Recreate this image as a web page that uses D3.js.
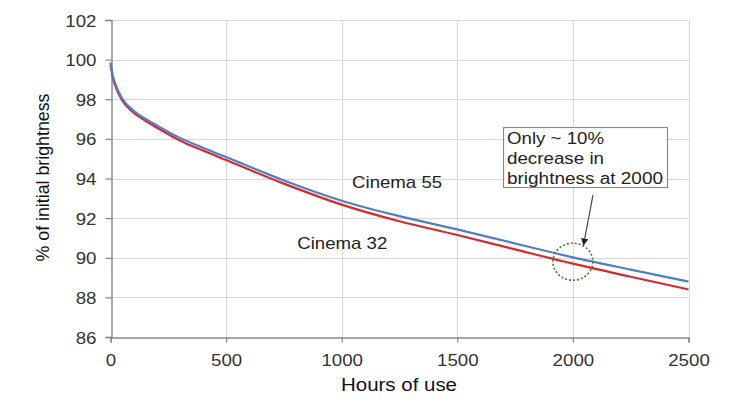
<!DOCTYPE html>
<html><head><meta charset="utf-8">
<script src="https://cdn.jsdelivr.net/npm/d3@7"></script>
<style>body{margin:0;background:#fff}svg{display:block;font-family:"Liberation Sans",Arial,sans-serif}</style>
</head><body><svg id="c" width="735" height="402"></svg>
<script>
const hours    = [0, 10, 25, 50, 100, 150, 200, 300, 400, 500, 750, 1000, 1250, 1500, 1750, 2000, 2250, 2500];
const cinema55 = [99.85, 99.2, 98.65, 98.05, 97.42, 97.02, 96.68, 96.05, 95.55, 95.08, 93.9, 92.88, 92.1, 91.43, 90.72, 90.02, 89.4, 88.8];
const cinema32 = [99.75, 99.1, 98.55, 97.95, 97.32, 96.92, 96.57, 95.92, 95.41, 94.93, 93.74, 92.68, 91.84, 91.15, 90.42, 89.7, 89.04, 88.4];
const xTicks = [0, 500, 1000, 1500, 2000, 2500];
const yTicks = [86, 88, 90, 92, 94, 96, 98, 100, 102];
const seriesNames = ["Cinema 55", "Cinema 32"];
const noteLines = ["Only ~ 10%", "decrease in", "brightness at 2000"];
const noteAt = {h: 2000, v: 89.8};

const svg = d3.select("#c");
const x = d3.scaleLinear().domain([0, 2500]).range([110.5, 688.5]);
const y = d3.scaleLinear().domain([86, 102]).range([337, 20]);
const FONT = "Liberation Sans, Arial, sans-serif";

// grid
svg.append("g").selectAll("line").data(yTicks.filter(d => d > 86)).join("line")
  .attr("x1", x(0)).attr("x2", x(2500)).attr("y1", d => Math.round(y(d)) + .5).attr("y2", d => Math.round(y(d)) + .5)
  .attr("stroke", "#d6d6d6").attr("stroke-width", 1);
svg.append("g").selectAll("line").data(xTicks.filter(d => d > 0)).join("line")
  .attr("y1", y(102)).attr("y2", y(86)).attr("x1", d => Math.round(x(d)) + .5).attr("x2", d => Math.round(x(d)) + .5)
  .attr("stroke", "#d6d6d6").attr("stroke-width", 1);

// axes
const xAxis = svg.append("g").attr("transform", `translate(0,${Math.round(y(86)) + .5})`)
  .call(d3.axisBottom(x).tickValues(xTicks).tickFormat(d3.format("d")).tickSize(5).tickPadding(12));
const yAxis = svg.append("g").attr("transform", `translate(${Math.round(x(0)) + .5},0)`)
  .call(d3.axisLeft(y).tickValues(yTicks).tickFormat(d3.format("d")).tickSize(6).tickPadding(9));
[xAxis, yAxis].forEach(a => {
  a.select(".domain").attr("stroke", "#868686").attr("stroke-width", 1.4);
  a.selectAll(".tick line").attr("stroke", "#868686").attr("stroke-width", 1.2);
  a.selectAll(".tick text").attr("fill", "#333").attr("font-size", 16).attr("font-family", FONT)
    .attr("textLength", d => String(d).length * 10.4).attr("lengthAdjust", "spacingAndGlyphs");
});
yAxis.selectAll(".tick text").attr("dy", "0.38em");

// lines
const line = vals => d3.line().curve(d3.curveMonotoneX).x((d, i) => x(hours[i])).y(d => y(d))(vals);
svg.append("path").attr("d", line(cinema32)).attr("fill", "none").attr("stroke", "#d42a2e").attr("stroke-width", 2.2);
svg.append("path").attr("d", line(cinema55)).attr("fill", "none").attr("stroke", "#4f7fc0").attr("stroke-width", 2.2);

// series labels
svg.append("text").attr("x", x(1045)).attr("y", 188).text(seriesNames[0])
  .attr("font-size", 17).attr("fill", "#222").attr("textLength", 90).attr("lengthAdjust", "spacingAndGlyphs");
svg.append("text").attr("x", x(808)).attr("y", 249).text(seriesNames[1])
  .attr("font-size", 17).attr("fill", "#222").attr("textLength", 90).attr("lengthAdjust", "spacingAndGlyphs");

// annotation circle
svg.append("ellipse").attr("cx", x(noteAt.h)).attr("cy", y(noteAt.v)).attr("rx", 20).attr("ry", 18.5)
  .attr("fill", "none").attr("stroke", "#55703a").attr("stroke-width", 1.6).attr("stroke-dasharray", "2,2");

// annotation box
const bx = 503, by = 127;
svg.append("rect").attr("x", bx + .5).attr("y", by + .5).attr("width", 164).attr("height", 60)
  .attr("fill", "#fff").attr("stroke", "#8a8a8a").attr("stroke-width", 1.2);
const noteW = [97, 97, 156];
svg.append("g").selectAll("text").data(noteLines).join("text")
  .attr("x", bx + 4).attr("y", (d, i) => [143.5, 164, 184][i]).text(d => d)
  .attr("font-size", 16).attr("fill", "#222")
  .attr("textLength", (d, i) => noteW[i]).attr("lengthAdjust", "spacingAndGlyphs");

// arrow
svg.append("defs").append("marker").attr("id", "ah").attr("viewBox", "0 0 10 10").attr("refX", 9).attr("refY", 5)
  .attr("markerWidth", 6).attr("markerHeight", 7).attr("orient", "auto")
  .append("path").attr("d", "M0,0L10,5L0,10z").attr("fill", "#222");
svg.append("line").attr("x1", 593).attr("y1", 195).attr("x2", 583.5).attr("y2", 245)
  .attr("stroke", "#444").attr("stroke-width", 1.2).attr("marker-end", "url(#ah)");

// axis titles
svg.append("text").attr("x", 399).attr("y", 391).attr("text-anchor", "middle")
  .attr("font-size", 18).attr("fill", "#111").attr("textLength", 116).attr("lengthAdjust", "spacingAndGlyphs")
  .text("Hours of use");
svg.append("text").attr("transform", `translate(49,177.5) rotate(-90)`).attr("text-anchor", "middle")
  .attr("font-size", 17.5).attr("fill", "#111").attr("textLength", 168).attr("lengthAdjust", "spacingAndGlyphs")
  .text("% of initial brightness");
</script></body></html>
